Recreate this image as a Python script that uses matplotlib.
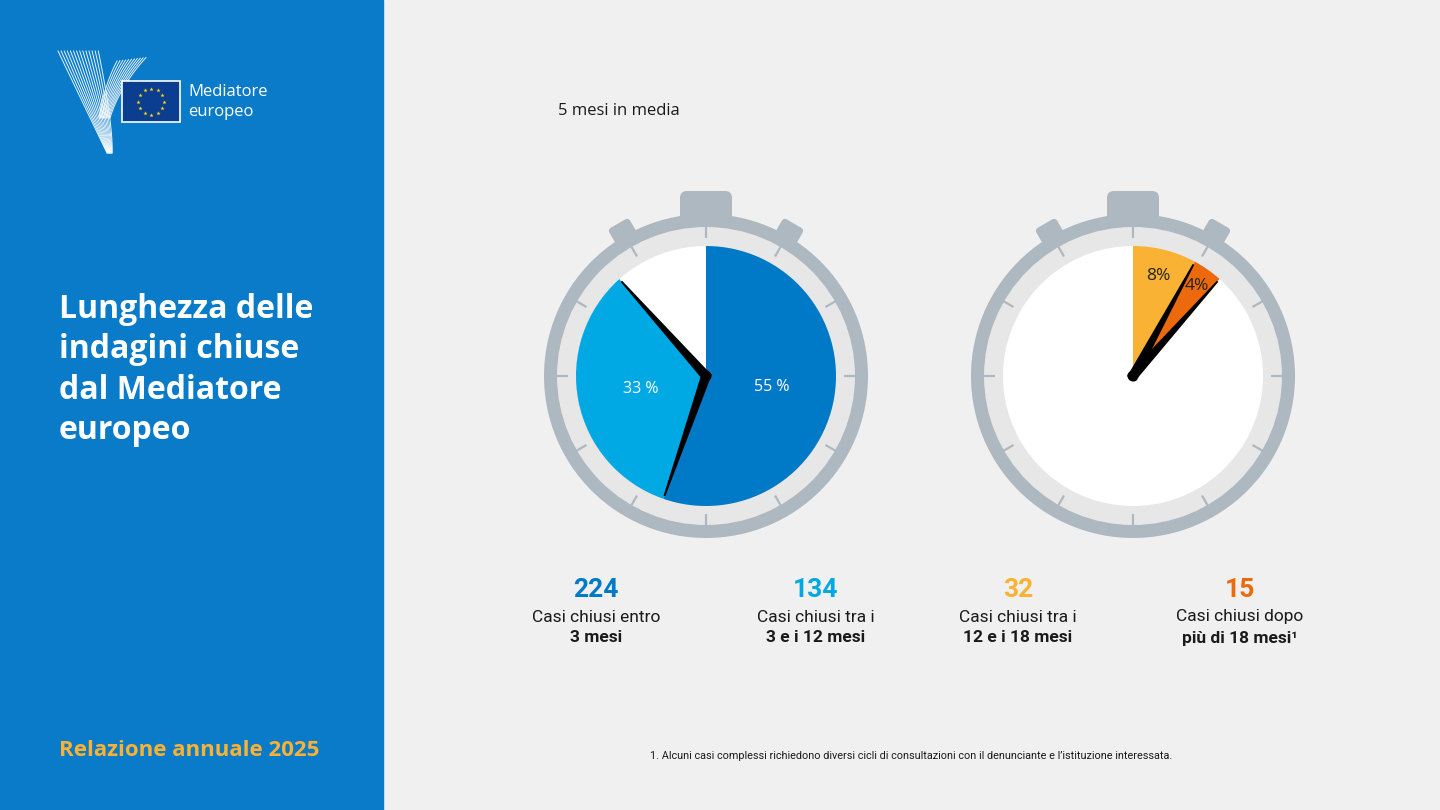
import numpy as np
import matplotlib
matplotlib.use('Agg')
import matplotlib.pyplot as plt
from matplotlib import font_manager
from matplotlib.patches import Rectangle, Circle, FancyBboxPatch, Polygon

W, H = 1440, 810

# data
counts = [224, 134, 32, 15]
count_labels = ['224', '134', '32', '15']
label_top = ['Casi chiusi entro', 'Casi chiusi tra i', 'Casi chiusi tra i', 'Casi chiusi dopo']
label_bottom = ['3 mesi', '3 e i 12 mesi', '12 e i 18 mesi', 'più di 18 mesi¹']
slice_colors = ['#0079c6', '#00a8e4', '#f9b233', '#ec6a0c']

BLUE_PANEL = '#0a7bc8'
BG = '#f0f0f0'
GREY = '#adb8c0'
RING = '#e7e7e7'

names = {f.name for f in font_manager.fontManager.ttflist}
NARROW = 'Liberation Sans Narrow' if 'Liberation Sans Narrow' in names else 'Roboto'
SANS = 'Open Sans' if 'Open Sans' in names else 'Lato'

fig = plt.figure(figsize=(14.4, 8.1), dpi=100)
fig.patch.set_facecolor(BG)

bg = fig.add_axes([0, 0, 1, 1])
bg.set_xlim(0, W)
bg.set_ylim(H, 0)
bg.axis('off')
bg.add_patch(Rectangle((0, 0), 383, H, color=BLUE_PANEL, zorder=0))

# ---- logo ----
def bezier(p0, p1, p2, n=40):
    t = np.linspace(0, 1, n)[:, None]
    return (1 - t) ** 2 * np.array(p0) + 2 * (1 - t) * t * np.array(p1) + t ** 2 * np.array(p2)

for i in range(14):
    c = bezier((58 + i * 3.1, 51), (92 + i * 1.6, 122), (107 + i * 0.4, 153))
    bg.plot(c[:, 0], c[:, 1], color='white', lw=0.7, alpha=0.9)
for i in range(11):
    c = bezier((117 + i * 2.9, 61 - i * 0.35), (104 + i * 1.6, 86), (99 + i * 1.1, 118))
    bg.plot(c[:, 0], c[:, 1], color='white', lw=0.7, alpha=0.9)

bg.add_patch(Rectangle((122, 81), 58, 41, facecolor='#0b3d91', edgecolor='white', lw=1.2, zorder=3))
ang = np.linspace(0, 2 * np.pi, 13)[:-1]
bg.scatter(151 + 13 * np.cos(ang), 101.5 + 13 * np.sin(ang), marker='*', s=10,
           color='#ffdd00', zorder=4, linewidths=0)
bg.text(188, 92, 'Mediatore', color='white', fontsize=12, family=SANS, va='center')
bg.text(188, 112, 'europeo', color='white', fontsize=12, family=SANS, va='center')

# ---- left panel text ----
bg.text(59, 370, 'Lunghezza delle\nindagini chiuse\ndal Mediatore\neuropeo', color='white',
        fontsize=23, fontweight='bold', family=SANS, va='center', linespacing=1.3)
bg.text(59, 751, 'Relazione annuale 2025', color='#f9b233', fontsize=16,
        fontweight='bold', family=SANS, va='center')

bg.text(558, 111, '5 mesi in media', color='#1a1a1a', fontsize=12, family=SANS, va='center')

# ---- stopwatches ----
total = sum(counts)
pies = [
    ([counts[0], counts[1], counts[2] + counts[3]], [slice_colors[0], slice_colors[1], 'white'], 706),
    ([counts[2], counts[3], counts[0] + counts[1]], [slice_colors[2], slice_colors[3], 'white'], 1133),
]
CY = 376
R = 195
PR = 130
label_r = [[0.51, 0.51], [0.79, 0.85]]


def draw_hand(ax, theta, length):
    t = np.radians(theta)
    d = np.array([np.sin(t), np.cos(t)])
    p = np.array([np.cos(t), -np.sin(t)])
    pts = [-d * 3 + p * 5, d * length + p * 0.9, d * length - p * 0.9, -d * 3 - p * 5]
    ax.add_patch(Polygon(pts, closed=True, color='black', zorder=6, lw=0))


for k, (vals, cols, cx) in enumerate(pies):
    ax = fig.add_axes([(cx - R) / W, (H - CY - R) / H, 2 * R / W, 2 * R / H])
    # top and side buttons
    ax.add_patch(FancyBboxPatch((-26, 150), 52, 35, boxstyle='round,pad=0,rounding_size=7',
                                color=GREY, zorder=1, lw=0))
    for side in (-30, 30):
        tr = matplotlib.transforms.Affine2D().rotate_deg(-side) + ax.transData
        ax.add_patch(FancyBboxPatch((-12, 150), 24, 26, boxstyle='round,pad=0,rounding_size=4',
                                    color=GREY, zorder=1, lw=0, transform=tr))
    ax.add_patch(Circle((0, 0), 162, color=GREY, zorder=2, lw=0))
    ax.add_patch(Circle((0, 0), 149, color=RING, zorder=2, lw=0))
    for a in range(0, 360, 30):
        t = np.radians(a)
        ax.plot([138 * np.sin(t), 150 * np.sin(t)], [138 * np.cos(t), 150 * np.cos(t)],
                color=GREY, lw=1.6, zorder=3, solid_capstyle='butt')
    wedges, _ = ax.pie(vals, colors=cols, startangle=90, counterclock=False, radius=PR,
                       wedgeprops=dict(linewidth=0))
    for w in wedges:
        w.set_zorder(4)
    cum = np.cumsum(vals) / sum(vals)
    starts = np.concatenate([[0], cum[:-1]])
    for j in range(2):
        pct = round(100 * vals[j] / total)
        mid = 360 * (starts[j] + cum[j]) / 2
        t = np.radians(mid)
        r = label_r[k][j]
        if k == 0:
            txt, col, fs = f'{pct} %', 'white', 11.5
        else:
            txt, col, fs = f'{pct}%', '#222222', 12.5
        ax.text(r * PR * np.sin(t), r * PR * np.cos(t), txt, color=col, fontsize=fs,
                family=SANS, ha='center', va='center', zorder=7)
    for j in range(2):
        draw_hand(ax, 360 * cum[j], PR - 3)
    ax.add_patch(Circle((0, 0), 5.5, color='black', zorder=6, lw=0))
    ax.set_xlim(-R, R)
    ax.set_ylim(-R, R)
    ax.set_aspect('equal')
    ax.axis('off')

# ---- bottom labels ----
label_x = [596, 816, 1018, 1240]
for x, num, top, bot, col in zip(label_x, count_labels, label_top, label_bottom, slice_colors):
    bg.text(x, 590, num, color=col, fontsize=19, fontweight='bold', family=NARROW,
            ha='center', va='center')
    bg.text(x, 617, top, color='#1a1a1a', fontsize=12.5, family=NARROW, ha='center', va='center')
    bg.text(x, 638, bot, color='#1a1a1a', fontsize=12.5, fontweight='bold', family=NARROW,
            ha='center', va='center')

bg.text(911, 756, '1. Alcuni casi complessi richiedono diversi cicli di consultazioni con il '
        'denunciante e l’istituzione interessata.', color='#1a1a1a', fontsize=7.8,
        family=NARROW, ha='center', va='center')

fig.savefig('out.png', dpi=100, facecolor=BG)
